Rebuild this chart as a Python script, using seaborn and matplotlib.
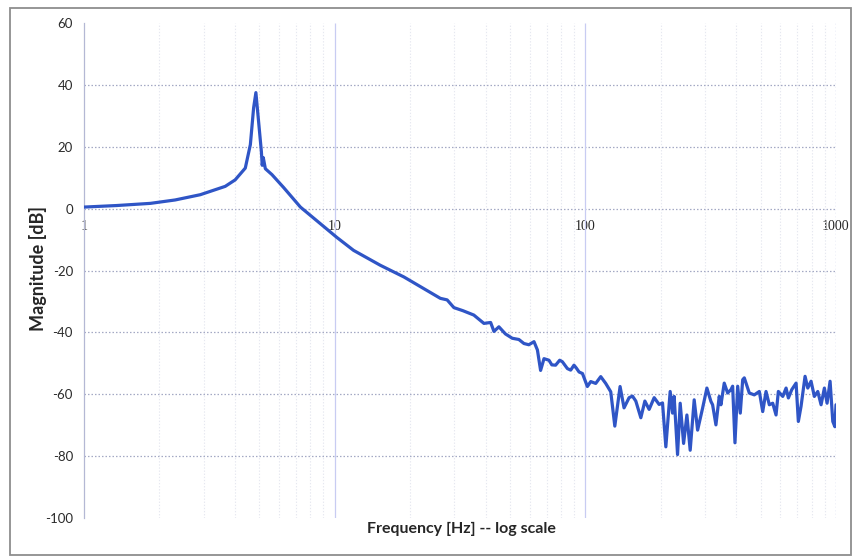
import matplotlib
matplotlib.use("Agg")
import matplotlib.pyplot as plt
from matplotlib.patches import Rectangle
from matplotlib.ticker import LogLocator, NullFormatter, FixedLocator, FixedFormatter
import pandas as pd
import seaborn as sns

# Measured frequency response (magnitude vs. frequency)
freq_hz = [
    1.0, 1.35, 1.84, 2.31, 2.91, 3.34, 3.66, 4.01, 4.40, 4.61, 4.75, 4.85,
    4.97, 5.10, 5.14, 5.19, 5.29, 5.62, 6.26, 7.30, 8.51, 10.2, 11.9, 15.2,
    18.9, 23.4, 26.4, 28.1, 29.9, 32.5, 35.9, 39.4, 41.9, 43.2, 45.2, 48.0,
    51.1, 54.3, 56.9, 59.5, 62.4, 64.4, 66.3, 68.4, 71.6, 73.5, 76.1, 79.0,
    81.0, 84.8, 87.4, 90.1, 92.0, 94.4, 97.4, 101.9,
    105.1, 110.0, 115.2, 120.6, 126.3, 131.1, 137.6, 142.7, 149.5, 154.2,
    159.0, 166.5, 172.8, 179.7, 188.2, 197.0, 203.2, 209.5, 218.0, 222.8,
    226.1, 233.3, 239.0, 246.6, 254.2, 262.0, 271.8, 280.5, 293.6, 305.5,
    316.9, 321.9, 331.9, 342.1, 347.5, 358.2, 369.6, 381.0, 387.0, 395.3,
    405.3, 415.1, 424.4, 430.7, 450.9, 472.1, 494.4, 510.1, 525.8, 542.0,
    559.2, 576.5, 588.9, 613.3, 632.2, 645.7, 666.2, 693.1, 707.6, 725.4,
    752.6, 771.5, 795.2, 819.7, 845.8, 871.9, 898.8, 921.3, 947.1, 971.0,
    990.0, 1000.0,
]
mag_db = [
    0.5, 1.0, 1.7, 2.8, 4.5, 6.1, 7.2, 9.3, 13.1, 20.7, 32.6, 37.5,
    28.3, 18.5, 14.0, 16.5, 12.9, 11.0, 6.8, 0.5, -4.0, -9.3, -13.5, -18.3,
    -22.1, -26.5, -29.0, -29.5, -32.0, -33.0, -34.4, -37.1, -36.8, -39.7, -38.2, -40.5,
    -41.9, -42.3, -43.6, -44.0, -43.0, -45.7, -52.3, -48.5, -49.0, -50.5, -50.6, -49.0,
    -49.5, -51.7, -52.2, -50.6, -51.5, -52.8, -53.3, -57.5,
    -55.9, -56.5, -54.3, -56.5, -59.2, -70.3, -57.5, -64.4, -61.1, -60.6,
    -62.2, -67.6, -62.2, -64.9, -61.1, -63.3, -62.8, -77.0, -59.1, -66.1,
    -60.7, -79.5, -62.9, -75.9, -66.7, -78.1, -61.8, -71.6, -64.5, -58.0,
    -62.3, -63.4, -69.9, -60.7, -63.4, -56.4, -59.6, -58.5, -57.4, -75.7,
    -57.4, -66.1, -55.3, -54.7, -59.6, -60.2, -59.1, -65.6, -59.1, -63.4,
    -62.9, -66.7, -59.1, -60.7, -58.0, -61.2, -58.5, -56.4, -68.8, -63.9,
    -54.2, -58.0, -55.8, -60.7, -59.1, -63.4, -58.0, -62.9, -55.8, -68.8,
    -70.5, -63.4,
]

x_ticks = [1, 10, 100, 1000]
x_tick_labels = ["1", "10", "100", "1000"]
y_ticks = [-100, -80, -60, -40, -20, 0, 20, 40, 60]
y_grid = [-80, -60, -40, -20, 0, 20, 40]

sns.set_style("white")
plt.rcParams["font.family"] = ["Lato", "DejaVu Sans"]

W, H = 855, 557
fig = plt.figure(figsize=(W / 100, H / 100), dpi=100)
ax = fig.add_axes([84 / W, 1 - 518 / H, (836 - 84) / W, (518 - 23) / H])

df = pd.DataFrame({"freq": freq_hz, "mag": mag_db})
sns.lineplot(data=df, x="freq", y="mag", ax=ax, color="#2f55c6",
             linewidth=2.3, sort=False, estimator=None, zorder=5)

ax.set_xscale("log")
ax.set_xlim(1, 1000)
ax.set_ylim(-100, 60)
ax.set_xlabel("")
ax.set_ylabel("")

# gridlines
ax.hlines(y_grid, 1, 1000, colors="#a4a9c4", linestyles=(0, (1.2, 1.6)),
          linewidth=0.9, zorder=1)
ax.xaxis.set_minor_locator(LogLocator(base=10, subs=range(2, 10)))
ax.xaxis.set_minor_formatter(NullFormatter())
ax.grid(which="minor", axis="x", color="#e6e8f0", linestyle=(0, (1.2, 1.6)),
        linewidth=0.8, zorder=0)
ax.vlines([10, 100], -100, 60, colors="#c8ccf2", linewidth=0.9, zorder=1)
ax.vlines([1000], -100, 60, colors="#9ea6d8", linestyles=(0, (1.2, 1.6)),
          linewidth=0.9, zorder=1)

# axes lines and ticks
for side in ["top", "right"]:
    ax.spines[side].set_visible(False)
ax.spines["left"].set_color("#b4b8d4")
ax.spines["left"].set_linewidth(0.9)
ax.spines["bottom"].set_position(("data", 0))
ax.spines["bottom"].set_visible(False)

ax.xaxis.set_major_locator(FixedLocator(x_ticks))
ax.xaxis.set_major_formatter(FixedFormatter(x_tick_labels))
ax.set_yticks(y_ticks)
ax.set_yticklabels([str(v) for v in y_ticks])
ax.tick_params(axis="x", which="both", length=0, pad=8, labelsize=10,
               labelcolor="#262626")
ax.tick_params(axis="y", length=0, pad=8, labelsize=9.5, labelcolor="#2b2b2b")
for lbl in ax.get_xticklabels():
    lbl.set_family(["Liberation Serif", "DejaVu Serif"])
    lbl.set_fontsize(10)

fig.text(38 / W, 1 - 268 / H, "Magnitude [dB]", rotation=90, fontweight="bold",
         fontsize=13, ha="center", va="center", color="#262626")
fig.text(461 / W, 1 - 529 / H, "Frequency [Hz] -- log scale", fontweight="bold",
         fontsize=11.5, ha="center", va="center", color="#262626")

# chart frame
fig.patches.append(Rectangle((10 / W, 1 - 555 / H), (851 - 10) / W, (555 - 8) / H,
                             transform=fig.transFigure, fill=False,
                             edgecolor="#8e8e8e", linewidth=1.3))

fig.savefig("out.png", dpi=100)
